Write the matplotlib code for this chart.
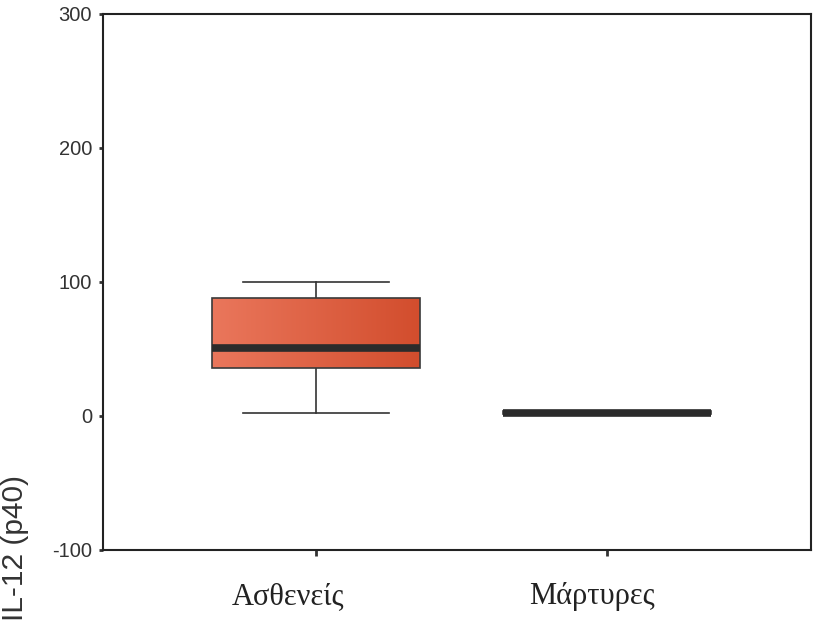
import numpy as np
import matplotlib.pyplot as plt
import matplotlib.transforms as mtransforms
from matplotlib.colors import LinearSegmentedColormap

# group labels and box statistics
groups = ['Ασθενείς', 'Μάρτυρες']
whislo = [2.2, 1.5]
q1 = [35.8, 1.5]
med = [50.5, 2.5]
q3 = [88.0, 3.8]
whishi = [100.0, 3.8]

yticks = [-100, 0, 100, 200, 300]

fig = plt.figure(figsize=(8.19, 6.24), dpi=100)
ax = fig.add_axes([0.1258, 0.1186, 0.8644, 0.859])

stats = []
for i in range(len(groups)):
    stats.append({'label': groups[i], 'whislo': whislo[i], 'q1': q1[i],
                  'med': med[i], 'q3': q3[i], 'whishi': whishi[i], 'fliers': []})

pos = [1, 2]
bp = ax.bxp(stats, positions=pos, widths=0.715, patch_artist=True, showfliers=False,
            boxprops=dict(facecolor='#DE5F40', edgecolor='#3a3a3a', linewidth=1.2),
            medianprops=dict(color='#2b2b2b', linewidth=5.5, solid_capstyle='butt'),
            whiskerprops=dict(color='#333333', linewidth=1.2),
            capprops=dict(color='#333333', linewidth=1.2),
            capwidths=0.5)

# left-to-right gradient inside the boxes, like the original
cmap = LinearSegmentedColormap.from_list('box', ['#EA775C', '#D24D2D'])
grad = np.linspace(0, 1, 256).reshape(1, -1)
for p, box in zip(pos, bp['boxes']):
    ext = box.get_path().get_extents()
    im = ax.imshow(grad, cmap=cmap, aspect='auto', zorder=3,
                   extent=[p - 0.36, p + 0.36, ext.y0, ext.y1], interpolation='bilinear')
    im.set_clip_path(box)
for b in bp['boxes']:
    b.set_facecolor('none')
    b.set_zorder(4)
for m in bp['medians']:
    m.set_zorder(5)

ax.set_xlim(0.268, 2.70)
ax.set_ylim(-100, 300)
ax.set_yticks(yticks)
ax.set_yticklabels([str(t) for t in yticks], fontsize=14.5, color='#333333',
                   family='Liberation Sans')
ax.set_xticks(pos)
ax.set_xticklabels(groups, fontsize=22, family='Liberation Serif', color='#222222')
ax.tick_params(axis='y', length=3, width=2, color='#333333', pad=5)
ax.tick_params(axis='x', length=4, width=2, color='#333333', pad=19)

# the category labels sit a little left of their ticks in the original
shifts = [-28, -15]
for lab, dx in zip(ax.get_xticklabels(), shifts):
    lab.set_transform(lab.get_transform() +
                      mtransforms.ScaledTranslation(dx / 100, 0, fig.dpi_scale_trans))

for s in ax.spines.values():
    s.set_linewidth(1.5)
    s.set_color('#222222')

fig.text(0.018, 0.122, 'IL-12 (p40)', rotation=90, fontsize=21.5,
         family='Liberation Sans', color='#333333', ha='center', va='center')

fig.savefig('out.png', dpi=100)
